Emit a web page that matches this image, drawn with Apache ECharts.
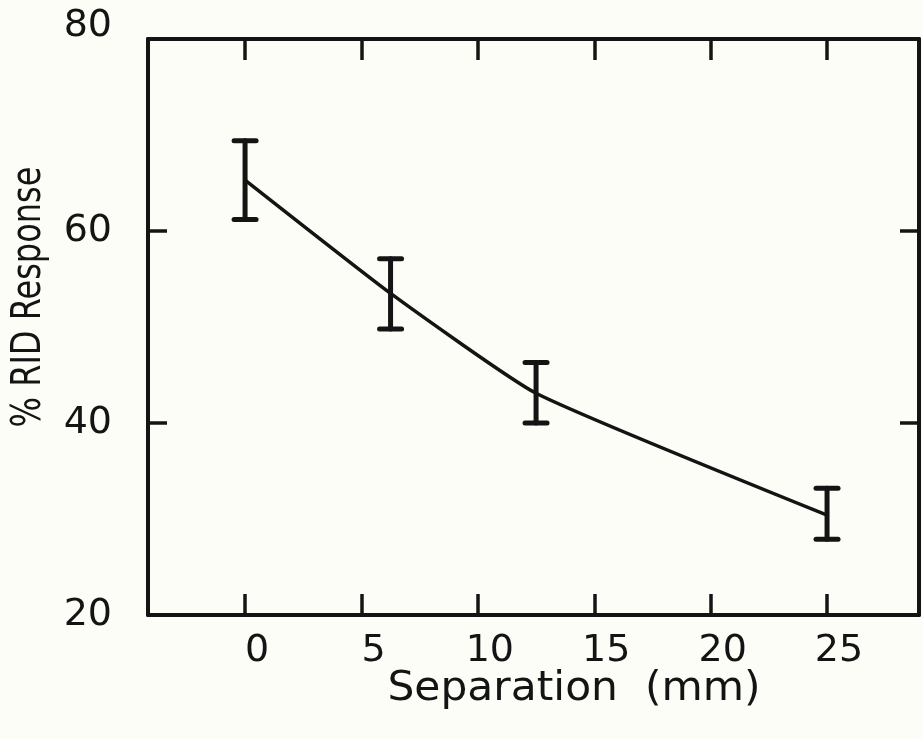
<!DOCTYPE html>
<html>
<head>
<meta charset="utf-8">
<script src="https://cdn.jsdelivr.net/npm/echarts@6/dist/echarts.min.js"></script>
<style>
  html, body { margin: 0; padding: 0; background: #fdfdf7; }
  #chart { width: 922px; height: 739px; }
</style>
</head>
<body>
<div id="chart"></div>
<script>
// Data
const separationMm = [0, 6.25, 12.5, 25];
const meanResponse = [65.3, 53.5, 43.1, 30.4];
const upperError   = [69.4, 57.1, 46.3, 33.2];
const lowerError   = [61.2, 49.8, 40.0, 27.9];
const xTickValues  = [0, 5, 10, 15, 20, 25];
const yTickValues  = [20, 40, 60, 80];
const xTitle = 'Separation  (mm)';
const yTitle = '% RID Response';

const ink = '#141414';
const fontFamily = 'DejaVu Sans';

const linePoints = separationMm.map((x, i) => [x, meanResponse[i]]);
const errorPoints = separationMm.map((x, i) => [x, lowerError[i], upperError[i]]);
const yTopValue = yTickValues[yTickValues.length - 1];

const chart = echarts.init(document.getElementById('chart'), null, { renderer: 'canvas' });

const baseX = {
  type: 'value', min: -4.17, max: 28.95,
  splitLine: { show: false },
  axisLine: { show: true, onZero: false, lineStyle: { color: ink, width: 4 } },
  axisTick: { show: true, inside: true, length: 21, lineStyle: { color: ink, width: 3.5 }, customValues: xTickValues },
};
const baseY = {
  type: 'value', min: 20, max: 80, interval: 20,
  splitLine: { show: false },
  axisLine: { show: true, onZero: false, lineStyle: { color: ink, width: 4 } },
  axisTick: { show: true, inside: true, length: 19, lineStyle: { color: ink, width: 3.5 }, customValues: yTickValues },
};

chart.setOption({
  backgroundColor: '#fdfdf7',
  animation: false,
  grid: { left: 148, top: 39, width: 771, height: 576, containLabel: false },
  xAxis: [
    Object.assign({}, baseX, {
      position: 'bottom',
      axisLabel: { show: true, customValues: xTickValues, color: ink, fontSize: 38, fontFamily: fontFamily, margin: 17, padding: [0, 0, 0, 24] }
    }),
    Object.assign({}, baseX, { position: 'top', axisLabel: { show: false } })
  ],
  yAxis: [
    Object.assign({}, baseY, {
      position: 'left',
      axisLabel: {
        show: true, customValues: yTickValues, color: ink, fontSize: 38, fontFamily: fontFamily, margin: 36,
        formatter: function (v) { return v === yTopValue ? '{hi|' + v + '}' : String(v); },
        rich: { hi: { color: ink, fontSize: 38, fontFamily: fontFamily, padding: [0, 0, 26, 0] } }
      }
    }),
    Object.assign({}, baseY, { position: 'right', axisLabel: { show: false } })
  ],
  graphic: [
    { type: 'text', x: 574, y: 690, scaleX: 1.06,
      style: { text: xTitle, fill: ink, font: '40px "DejaVu Sans"', align: 'center', verticalAlign: 'middle' } },
    { type: 'text', x: 30, y: 297, rotation: Math.PI / 2, scaleX: 0.8,
      style: { text: yTitle, fill: ink, font: '40px "DejaVu Sans"', align: 'center', verticalAlign: 'middle' } }
  ],
  series: [
    {
      type: 'line', data: linePoints, xAxisIndex: 0, yAxisIndex: 0,
      symbol: 'none', smooth: 0.15,
      lineStyle: { color: ink, width: 3.5 }
    },
    {
      type: 'custom', data: errorPoints, xAxisIndex: 0, yAxisIndex: 0,
      renderItem: function (params, api) {
        const x = api.value(0);
        const lo = api.coord([x, api.value(1)]);
        const hi = api.coord([x, api.value(2)]);
        const hw = 11;
        const style = { stroke: ink, lineWidth: 5, fill: null, lineCap: 'round' };
        return {
          type: 'group',
          children: [
            { type: 'line', shape: { x1: lo[0], y1: lo[1], x2: hi[0], y2: hi[1] }, style: style },
            { type: 'line', shape: { x1: hi[0] - hw, y1: hi[1], x2: hi[0] + hw, y2: hi[1] }, style: style },
            { type: 'line', shape: { x1: lo[0] - hw, y1: lo[1], x2: lo[0] + hw, y2: lo[1] }, style: style }
          ]
        };
      },
      z: 5
    }
  ]
});
</script>
</body>
</html>
